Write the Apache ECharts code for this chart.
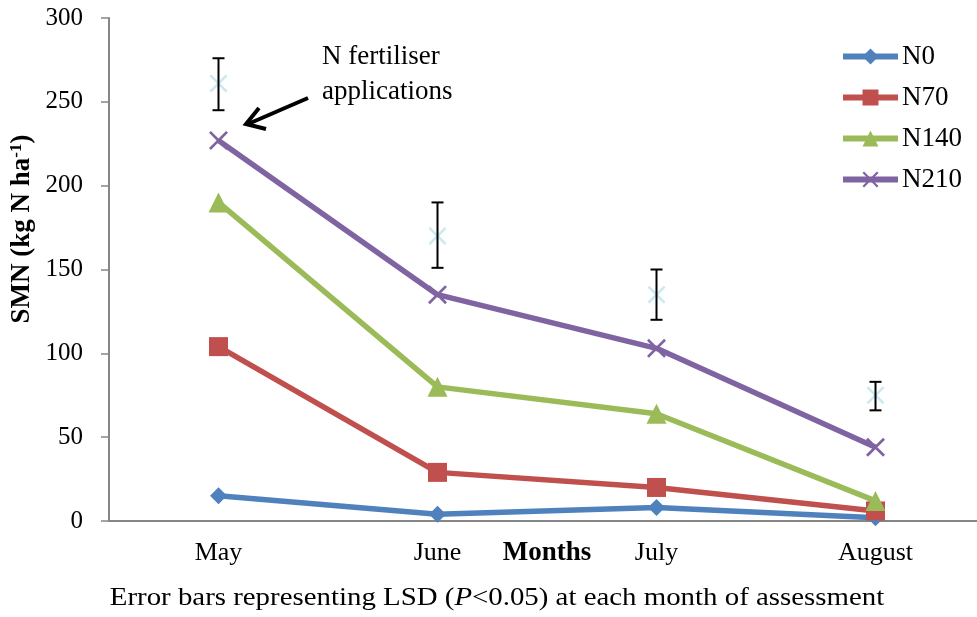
<!DOCTYPE html>
<html>
<head>
<meta charset="utf-8">
<script src="https://cdn.jsdelivr.net/npm/echarts@6/dist/echarts.min.js"></script>
<style>
  html, body { margin: 0; padding: 0; background: #fff; }
  #chart { width: 977px; height: 617px; }
</style>
</head>
<body>
<div id="chart"></div>
<script>
// months of assessment
var months = ['May', 'June', 'July', 'August'];

// soil mineral N (kg N/ha) by treatment
var n0 = [15, 4, 8, 2];
var n70 = [104, 29, 20, 6];
var n140 = [190, 80, 64, 12];
var n210 = [227, 135, 103, 44];

// LSD error bars (centre, low, high)
var lsdMid = [261, 170, 135, 75];
var lsdLow = [245, 151, 120, 66];
var lsdHigh = [276, 190, 150, 83];

var yTicks = [0, 50, 100, 150, 200, 250, 300];

var font = "'Liberation Serif', 'Times New Roman', serif";
var crossPath = 'path://M0,1L1,0L5,4L9,0L10,1L6,5L10,9L9,10L5,6L1,10L0,9L4,5Z';

var chart = echarts.init(document.getElementById('chart'));

function lineSeries(name, data, color, symbol, size) {
    return {
        name: name,
        type: 'line',
        data: data,
        symbol: symbol,
        symbolSize: size,
        lineStyle: { color: color, width: 5.5 },
        itemStyle: { color: color },
        z: 3
    };
}

var option = {
    backgroundColor: '#fff',
    animation: false,
    textStyle: { fontFamily: font, color: '#000' },
    grid: { left: 109, top: 18, width: 876, height: 503, outerBoundsMode: 'none', containLabel: false },
    legend: {
        orient: 'vertical',
        left: 840,
        top: 43,
        padding: 0,
        itemWidth: 55,
        itemHeight: 20,
        itemGap: 14,
        lineStyle: { width: 6 },
        textStyle: { fontFamily: font, fontSize: 27, color: '#000', padding: [0, 0, 0, -1] },
        data: ['N0', 'N70', 'N140', 'N210']
    },
    xAxis: {
        type: 'category',
        data: months,
        boundaryGap: true,
        name: 'Months',
        nameLocation: 'middle',
        nameGap: 19,
        nameMoveOverlap: false,
        nameTextStyle: { fontFamily: font, fontSize: 27, fontWeight: 'bold', color: '#000', verticalAlign: 'top' },
        axisLine: { lineStyle: { color: '#868686', width: 2 } },
        axisTick: { length: 7, lineStyle: { color: '#868686', width: 1.5 } },
        axisLabel: { fontFamily: font, fontSize: 26, color: '#000', margin: 19 }
    },
    yAxis: {
        type: 'value',
        min: yTicks[0],
        max: yTicks[yTicks.length - 1],
        interval: 50,
        axisLine: { show: true, lineStyle: { color: '#868686', width: 2 } },
        axisTick: { show: true, length: 8, lineStyle: { color: '#868686', width: 1.5 } },
        axisLabel: { fontFamily: font, fontSize: 25, color: '#000', margin: 26 },
        splitLine: { show: false }
    },
    series: [
        lineSeries('N0', n0, '#4F81BD', 'diamond', 17),
        lineSeries('N70', n70, '#C0504D', 'rect', 19),
        lineSeries('N140', n140, '#9BBB59', 'triangle', 20),
        lineSeries('N210', n210, '#8064A2', crossPath, 19),
        {
            name: 'LSD',
            type: 'scatter',
            data: lsdMid,
            symbol: crossPath,
            symbolSize: 18,
            itemStyle: { color: '#bfe3ee' },
            z: 2
        },
        {
            name: 'LSD bars',
            type: 'custom',
            data: months.map(function (m, i) { return [i, lsdLow[i], lsdHigh[i]]; }),
            renderItem: function (params, api) {
                var lo = api.coord([api.value(0), api.value(1)]);
                var hi = api.coord([api.value(0), api.value(2)]);
                var w = 6;
                var st = { stroke: '#000', lineWidth: 2 };
                return {
                    type: 'group',
                    children: [
                        { type: 'line', shape: { x1: lo[0], y1: lo[1], x2: hi[0], y2: hi[1] }, style: st },
                        { type: 'line', shape: { x1: lo[0] - w, y1: lo[1], x2: lo[0] + w, y2: lo[1] }, style: st },
                        { type: 'line', shape: { x1: hi[0] - w, y1: hi[1], x2: hi[0] + w, y2: hi[1] }, style: st }
                    ]
                };
            },
            z: 4
        }
    ],
    graphic: [
        {
            type: 'text',
            x: 22,
            y: 229,
            rotation: Math.PI / 2,
            style: {
                text: '{b|SMN (kg N ha}{s|-1}{b|)}',
                align: 'center',
                verticalAlign: 'middle',
                rich: {
                    b: { font: 'bold 27px ' + font, fill: '#000' },
                    s: { font: 'bold 17px ' + font, fill: '#000', verticalAlign: 'top', padding: [0, 0, 11, 0] }
                }
            }
        },
        {
            type: 'text',
            x: 497,
            y: 598,
            scaleX: 1.11,
            style: {
                text: '{a|Error bars representing LSD (}{i|P}{a|<0.05) at each month of assessment}',
                align: 'center',
                verticalAlign: 'middle',
                rich: {
                    a: { font: '26px ' + font, fill: '#000' },
                    i: { font: 'italic 26px ' + font, fill: '#000' }
                }
            }
        },
        {
            type: 'text',
            left: 322,
            top: 39,
            style: {
                text: 'N fertiliser\napplications',
                font: '27px ' + font,
                fill: '#000',
                lineHeight: 35
            }
        },
        {
            type: 'line',
            shape: { x1: 308, y1: 98, x2: 248, y2: 124 },
            style: { stroke: '#000', lineWidth: 4 }
        },
        {
            type: 'polyline',
            shape: { points: [[259, 108], [246, 124], [266, 129]] },
            style: { stroke: '#000', lineWidth: 4, fill: null, lineJoin: 'miter' }
        }
    ]
};

chart.setOption(option);
</script>
</body>
</html>
